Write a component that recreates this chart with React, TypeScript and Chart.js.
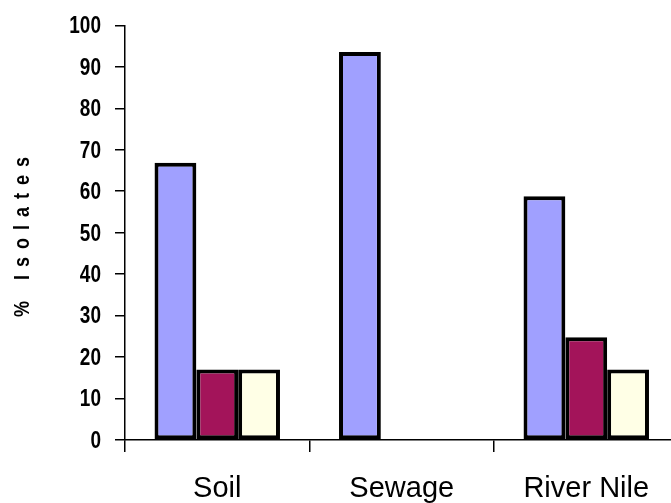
import React, { useEffect, useRef } from "react";
import { Chart, registerables } from "chart.js";

Chart.register(...registerables);

const categories = ["Soil", "Sewage", "River Nile"];
const seriesA = [66.9, 93.6, 58.8];
const seriesB = [17, null, 24.8];
const seriesC = [17, null, 17];
const yTicks = [0, 10, 20, 30, 40, 50, 60, 70, 80, 90, 100];
const yTitle = "% Isolates";

const labelPlugin = {
  id: "stretchedLabels",
  afterDraw(chart: any) {
    const ctx = chart.ctx;
    const yScale = chart.scales.y;
    // y tick labels, vertically stretched like the original
    ctx.save();
    ctx.font = "bold 19px 'Liberation Sans', Arial, sans-serif";
    ctx.fillStyle = "#000";
    ctx.textAlign = "right";
    ctx.textBaseline = "middle";
    yTicks.forEach((v) => {
      const py = yScale.getPixelForValue(v);
      ctx.save();
      ctx.translate(101, py + 1);
      ctx.scale(1, 1.3);
      ctx.fillText(String(v), 0, 0);
      ctx.restore();
    });
    ctx.restore();
    // y title with wide letter spacing
    ctx.save();
    ctx.translate(23, 237);
    ctx.rotate(-Math.PI / 2);
    ctx.scale(1, 1.25);
    ctx.font = "bold 18px 'Liberation Sans', Arial, sans-serif";
    try {
      (ctx as any).letterSpacing = "8px";
    } catch (e) {}
    ctx.fillStyle = "#000";
    ctx.textAlign = "center";
    ctx.textBaseline = "middle";
    ctx.fillText(yTitle, 4, 0);
    ctx.restore();
  },
};

export default function App() {
  const ref = useRef<HTMLCanvasElement>(null);
  useEffect(() => {
    if (!ref.current) return;
    const chart = new Chart(ref.current, {
      type: "bar",
      data: {
        labels: categories,
        datasets: [
          { data: seriesA, backgroundColor: "#a0a0ff", borderColor: "#000", borderWidth: 4, borderSkipped: false },
          { data: seriesB, backgroundColor: "#a3145a", borderColor: "#000", borderWidth: 4, borderSkipped: false },
          { data: seriesC, backgroundColor: "#ffffe6", borderColor: "#000", borderWidth: 4, borderSkipped: false },
        ],
      },
      options: {
        responsive: false,
        animation: false,
        layout: { padding: { top: 23, right: 1.5, left: 0, bottom: 0 } },
        plugins: { legend: { display: false }, tooltip: { enabled: false } },
        datasets: { bar: { categoryPercentage: 0.68, barPercentage: 1 } },
        scales: {
          x: {
            grid: { drawOnChartArea: false, drawTicks: true, tickLength: 12, color: "#000", lineWidth: 1.5, offset: true },
            border: { display: true, color: "#000", width: 1.5 },
            ticks: {
              color: "#000",
              padding: 20,
              maxRotation: 0,
              font: { family: "'Liberation Sans', Arial, sans-serif", size: 29 },
            },
            afterFit(scale: any) {
              scale.height = 63;
            },
          },
          y: {
            min: 0,
            max: 100,
            afterBuildTicks(scale: any) {
              scale.ticks = yTicks.map((v) => ({ value: v }));
            },
            grid: { drawOnChartArea: false, drawTicks: true, tickLength: 10, color: "#000", lineWidth: 1.5 },
            border: { display: true, color: "#000", width: 1.5 },
            ticks: {
              color: "rgba(0,0,0,0)",
              padding: 14,
              font: { family: "'Liberation Sans', Arial, sans-serif", size: 19, weight: "bold" },
            },
            afterFit(scale: any) {
              scale.width = 125;
            },
          },
        },
      },
      plugins: [labelPlugin],
    });
    return () => chart.destroy();
  }, []);
  return (
    <div style={{ position: "fixed", left: 0, top: 0, width: 671, height: 503, overflow: "hidden", background: "#fff" }}>
      <canvas ref={ref} width={680} height={503} style={{ display: "block", width: 680, height: 503 }} />
    </div>
  );
}
